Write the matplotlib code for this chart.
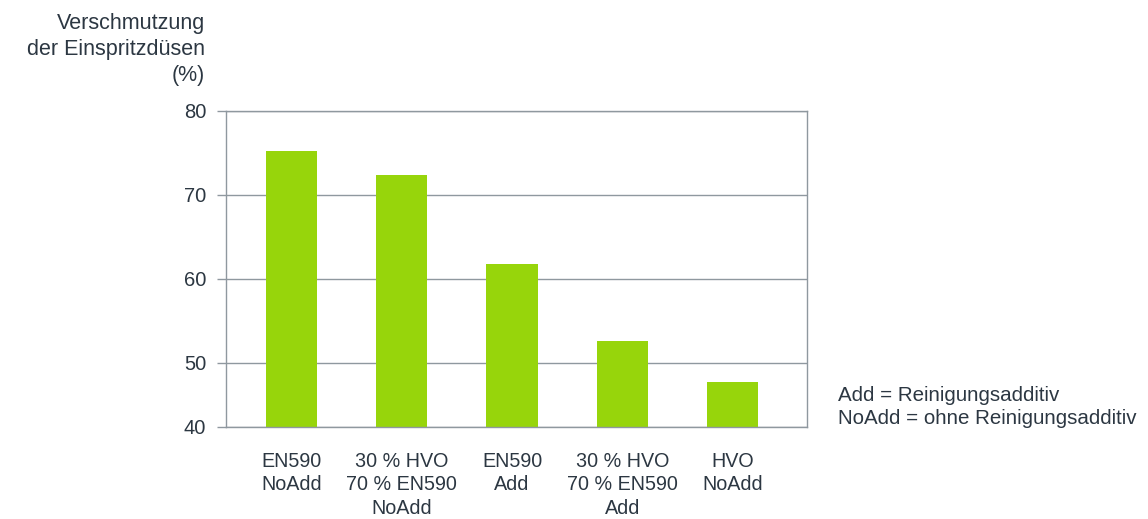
import matplotlib
matplotlib.use('Agg')
import matplotlib.pyplot as plt

# values
categories = ['EN590\nNoAdd', '30 % HVO\n70 % EN590\nNoAdd', 'EN590\nAdd',
              '30 % HVO\n70 % EN590\nAdd', 'HVO\nNoAdd']
values = [75.2, 72.4, 61.8, 52.6, 47.7]
ytick_values = [42.4, 50, 60, 70, 80]
ytick_labels = ['40', '50', '60', '70', '80']

BAR_COLOR = '#97d50b'
GRID_COLOR = '#8f989f'
TEXT_COLOR = '#2c3742'

plt.rcParams['font.family'] = ['Liberation Sans', 'DejaVu Sans']
plt.rcParams['font.size'] = 14
plt.rcParams['text.color'] = TEXT_COLOR


def main():
    fig = plt.figure(figsize=(11.48, 5.19), dpi=100)
    ax = fig.add_axes([0.1966, 0.1778, 0.5064, 0.6089])

    x = range(len(values))
    ax.bar(x, values, width=0.465, color=BAR_COLOR, zorder=2)

    ax.set_xlim(-0.594, 4.673)
    ax.set_ylim(42.4, 80)
    ax.set_yticks(ytick_values)
    ax.set_yticklabels(ytick_labels, fontsize=14.5)
    ax.set_xticks(list(x))
    ax.set_xticklabels(categories, linespacing=1.27, fontsize=14.2)

    ax.grid(axis='y', color=GRID_COLOR, linewidth=1.0, zorder=1)
    for s in ax.spines.values():
        s.set_color(GRID_COLOR)
        s.set_linewidth(1.0)

    ax.tick_params(axis='y', direction='out', length=6.5, width=1.0,
                   color=GRID_COLOR, pad=7.5, labelcolor=TEXT_COLOR)
    ax.tick_params(axis='x', length=0, pad=18.5, labelcolor=TEXT_COLOR)

    fig.text(205 / 1148, 1 - 13 / 519,
             'Verschmutzung\nder Einspritzdüsen\n(%)',
             ha='right', va='top', linespacing=1.3, fontsize=15.5)

    fig.text(838 / 1148, (519 - 407) / 519,
             'Add = Reinigungsadditiv\nNoAdd = ohne Reinigungsadditiv',
             ha='left', va='center', linespacing=1.25, fontsize=14.8)

    fig.savefig('out.png', dpi=100)


if __name__ == '__main__':
    main()
